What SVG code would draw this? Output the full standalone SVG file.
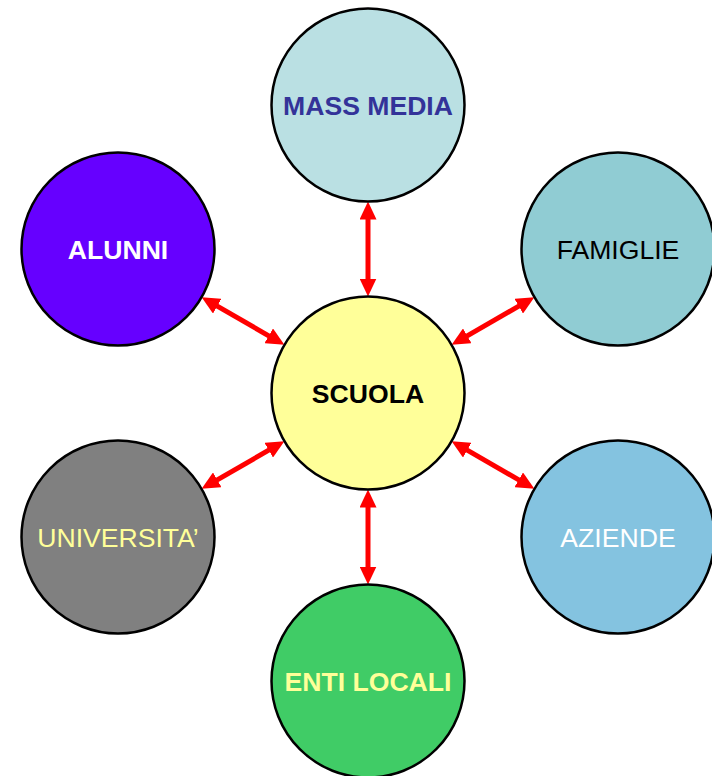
<svg xmlns="http://www.w3.org/2000/svg" width="712" height="776" viewBox="0 0 712 776">
<style>
.node{stroke:#000;stroke-width:2.5}
.lbl{font-family:"Liberation Sans",Arial,sans-serif;font-size:26.6px;text-anchor:middle}
.b{font-weight:bold}
.conn line{stroke:#FF0000;stroke-width:5;marker-start:url(#ah);marker-end:url(#ah)}
</style>
<defs>
<marker id="ah" markerUnits="userSpaceOnUse" viewBox="0 0 18 17" refX="8" refY="8.5" markerWidth="18" markerHeight="17" orient="auto-start-reverse">
<path d="M0,0 L18,8.5 L0,17 z" fill="#FF0000"/>
</marker>
</defs>
<rect width="712" height="776" fill="#fff"/>
<g id="connectors" class="conn">
<line x1="368" y1="211.5" x2="368" y2="286.5"/>
<line x1="210.3" y1="302.2" x2="275.7" y2="339.8"/>
<line x1="525.7" y1="302.2" x2="460.3" y2="339.8"/>
<line x1="210.3" y1="483.8" x2="275.7" y2="446.2"/>
<line x1="525.7" y1="483.8" x2="460.3" y2="446.2"/>
<line x1="368" y1="499.5" x2="368" y2="574.5"/>
</g>
<g id="mass-media"><circle class="node" cx="368" cy="105" r="96.5" fill="#BAE0E3"/><text class="lbl b" x="368" y="114.5" fill="#333399">MASS MEDIA</text></g>
<g id="alunni"><circle class="node" cx="118" cy="249" r="96.5" fill="#6600FF"/><text class="lbl b" x="118" y="258.5" fill="#FFFFFF">ALUNNI</text></g>
<g id="famiglie"><circle class="node" cx="618" cy="249" r="96.5" fill="#90CCD3"/><text class="lbl" x="618" y="258.5" fill="#000000">FAMIGLIE</text></g>
<g id="scuola"><circle class="node" cx="368" cy="393" r="96.5" fill="#FFFF99"/><text class="lbl b" x="368" y="402.5" fill="#000000">SCUOLA</text></g>
<g id="universita"><circle class="node" cx="118" cy="537" r="96.5" fill="#808080"/><text class="lbl" x="118" y="546.5" fill="#FFFF99">UNIVERSITA’</text></g>
<g id="aziende"><circle class="node" cx="618" cy="537" r="96.5" fill="#84C3E0"/><text class="lbl" x="618" y="546.5" fill="#FFFFFF">AZIENDE</text></g>
<g id="enti-locali"><circle class="node" cx="368" cy="681" r="96.5" fill="#40CC66"/><text class="lbl b" x="368" y="690.5" fill="#FFFF99">ENTI LOCALI</text></g>
</svg>
